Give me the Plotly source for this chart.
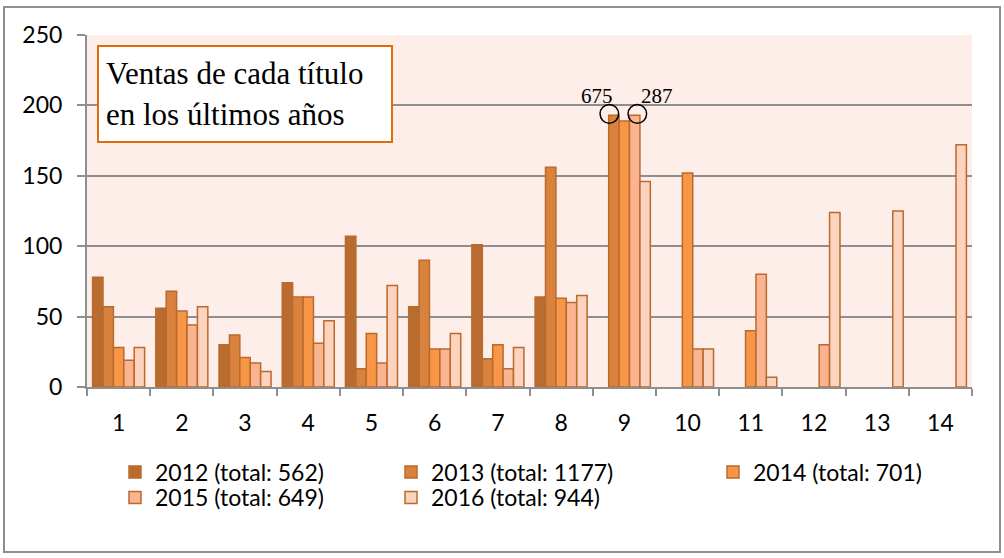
import plotly.graph_objects as go

# ---- data ----
categories = [str(i) for i in range(1, 15)]
years = ["2012", "2013", "2014", "2015", "2016"]
totals = [562, 1177, 701, 649, 944]
sales_2012 = [78, 56, 30, 74, 107, 57, 101, 64, 0, 0, 0, 0, 0, 0]
sales_2013 = [57, 68, 37, 64, 13, 90, 20, 156, 193, 0, 0, 0, 0, 0]   # title 9 bar is broken (real 675)
sales_2014 = [28, 54, 21, 64, 38, 27, 30, 63, 189, 152, 40, 0, 0, 0]
sales_2015 = [19, 44, 17, 31, 17, 27, 13, 60, 193, 27, 80, 30, 0, 0]   # title 9 bar is broken (real 287)
sales_2016 = [28, 57, 11, 47, 72, 38, 28, 65, 146, 27, 7, 124, 125, 172]
broken_labels = ["675", "287"]
y_ticks = [0, 50, 100, 150, 200, 250]

series = [sales_2012, sales_2013, sales_2014, sales_2015, sales_2016]
colors = ["#B96C2F", "#D9823E", "#F79646", "#FAB590", "#FCD3BE"]
edge = "#BA6A2C"
grid = "#8E8E8E"
sans = "Lato"
serif = "Liberation Serif"

W, H = 1004, 558
L, R, T, B = 87, 32, 35, 171
pw, ph = W - L - R, H - T - B

def px_x(p):
    return (p - L) / pw

def px_y(p):
    return (H - B - p) / ph

fig = go.Figure()
legend_ids = ["legend", "legend2", "legend3", "legend4", "legend5"]
for yr, tot, vals, col, lid in zip(years, totals, series, colors, legend_ids):
    fig.add_trace(go.Bar(
        x=categories, y=[v if v else None for v in vals],
        name=f"{yr} (total: {tot})",
        marker=dict(color=col, line=dict(color=edge, width=1.5)),
        legend=lid,
    ))

# legend placement: 3 columns, 2 rows (text start px, row centre px)
legend_pos = [(155, 472), (431, 472), (753, 472), (155, 497.5), (431, 497.5)]
legend_layout = {}
for lid, (tx, ty) in zip(legend_ids, legend_pos):
    legend_layout[lid] = dict(
        x=px_x(tx - 40), y=px_y(ty), xanchor="left", yanchor="middle",
        bgcolor="rgba(0,0,0,0)", borderwidth=0,
        font=dict(family=sans, size=23, color="#000000"),
    )

fig.update_layout(
    width=W, height=H,
    margin=dict(l=L, r=R, t=T, b=B, pad=0),
    paper_bgcolor="#FFFFFF",
    plot_bgcolor="#FDEEE9",
    barmode="group", bargap=0.177, bargroupgap=0,
    showlegend=True,
    **legend_layout,
)

fig.update_yaxes(
    range=[0, 250], tickvals=y_ticks,
    showgrid=True, gridcolor=grid, gridwidth=2,
    showline=True, linecolor=grid, linewidth=2,
    ticks="outside", ticklen=8, tickwidth=2, tickcolor=grid,
    zeroline=False, ticklabelstandoff=10,
    tickfont=dict(family=sans, size=23, color="#000000"),
)
fig.update_xaxes(
    type="category", range=[-0.5, 13.5],
    showgrid=False,
    showline=True, linecolor=grid, linewidth=2,
    ticks="outside", tickson="boundaries", ticklen=7, tickwidth=2, tickcolor=grid,
    ticklabelstandoff=14,
    tickfont=dict(family=sans, size=23, color="#000000"),
)

# title box
fig.add_annotation(
    xref="paper", yref="paper", x=px_x(97), y=px_y(45),
    xanchor="left", yanchor="top",
    text="Ventas de cada título<br>en los últimos años",
    align="left", valign="middle", width=278, height=80,
    showarrow=False, bgcolor="#FFFFFF", bordercolor="#E36C0A",
    borderwidth=2, borderpad=7,
    font=dict(family=serif, size=31, color="#000000"),
)

# broken-bar markers on title 9
idx9 = categories.index("9")
for dx, lbl, lx in [(-15, broken_labels[0], -27), (13, broken_labels[1], 33)]:
    fig.add_shape(
        type="circle", xref="x", yref="y",
        xsizemode="pixel", ysizemode="pixel",
        xanchor=idx9, yanchor=194,
        x0=dx - 9.3, x1=dx + 9.3, y0=-9.3, y1=9.3,
        line=dict(color="#000000", width=1.5), fillcolor="rgba(0,0,0,0)",
    )
    fig.add_annotation(
        xref="x", yref="y", x=idx9, y=207, xshift=lx,
        text=lbl, showarrow=False,
        font=dict(family=serif, size=21, color="#000000"),
    )

# outer chart frame
fig.add_shape(
    type="rect", xref="paper", yref="paper",
    x0=px_x(4), x1=px_x(1000), y0=px_y(552), y1=px_y(7),
    line=dict(color="#8E8E8E", width=2), fillcolor="rgba(0,0,0,0)",
    layer="above",
)

fig.write_html(
    "out.html",
    config={"displayModeBar": False},
    post_script="document.body.style.margin='0px';",
)
